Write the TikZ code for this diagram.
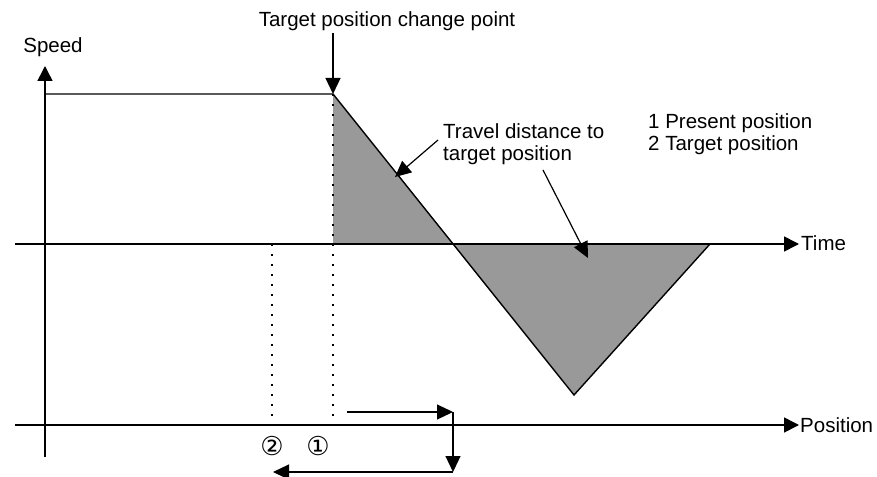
\documentclass[tikz,border=0pt]{standalone}
\usepackage{fontspec}
\setmainfont{Liberation Sans}
\newfontfamily\circfont{DejaVu Sans}
\usetikzlibrary{arrows.meta, positioning}

\definecolor{areagray}{RGB}{153,153,153}

\begin{document}
\begin{tikzpicture}[
    x=1pt, y=-1pt,
    label/.style={
        font=\fontsize{20.5}{21.5}\selectfont,
        inner sep=0pt,
        align=left
    },
    axis/.style={
        line width=1.6pt,
        -{Triangle[length=15pt,width=15pt]}
    },
    curve/.style={
        line width=1.4pt
    },
    arrow/.style={
        line width=1.2pt,
        -{Triangle[length=16pt,width=15pt]}
    },
    guide/.style={
        line width=1.8pt,
        dash pattern=on 2pt off 8pt
    },
    area/.style={
        fill=areagray
    }
]
\useasboundingbox (0,0) rectangle (877,476);

% Key points
\coordinate (vbot) at (45,457);
\coordinate (vtop) at (45,66);
\coordinate (tstart) at (15,244);
\coordinate (tend) at (799,244);
\coordinate (pstart) at (15,425);
\coordinate (pend) at (799,425);
\coordinate (plateau) at (45,94);
\coordinate (change) at (333,94);
\coordinate (foot) at (333,244);
\coordinate (cross) at (453,244);
\coordinate (low) at (574,395);
\coordinate (back) at (710,244);
\coordinate (present) at (333,418);
\coordinate (target) at (272,418);
\coordinate (target0) at (272,244);

% Travel distance areas
\fill[area] (change) -- (foot) -- (cross) -- cycle;
\fill[area] (cross) -- (back) -- (low) -- cycle;

% Axes
\draw[axis] (vbot) -- (vtop);
\draw[axis] (tstart) -- (tend);
\draw[axis] (pstart) -- (pend);

% Speed profile
\draw[curve] (plateau) -- (change) -- (low) -- (back);

% Position guides
\draw[guide] (change) -- (present);
\draw[guide] (target0) -- (target);

% Labels
\node[label, anchor=base] (speed) at (53,53) {Speed};
\node[label, anchor=base west] (timelbl) at (801,250) {Time};
\node[label, anchor=base west] (poslbl) at (800,432) {Position};
\node[label, anchor=base] (changelbl) at (387,27) {Target position change point};
\node[label, anchor=base west] (travel) at (443,160) {Travel distance to\\target position};
\node[label, anchor=base west] (legend) at (648,150) {1 Present position\\2 Target position};
\node[label, font=\circfont\fontsize{26}{28}\selectfont] (two) at (272,446) {②};
\node[label, font=\circfont\fontsize{26}{28}\selectfont] (one) at (318,446) {①};

% Pointers
\coordinate (from1) at (438,140);
\coordinate (tip1) at (395,177);
\coordinate (from2) at (543,170);
\coordinate (tip2) at (588,258);
\draw[arrow] (change |- changelbl.south) ++(0,2) -- (change);
\draw[arrow] (from1) -- (tip1);
\draw[arrow] (from2) -- (tip2);

% Movement
\coordinate (mv1) at (347,412);
\coordinate (mv2) at (453,412);
\coordinate (mv3) at (453,472);
\coordinate (mv4) at (273,472);
\draw[arrow] (mv1) -- (mv2);
\draw[arrow] (mv2) -- (mv3);
\draw[arrow] (mv3) -- (mv4);

\end{tikzpicture}
\end{document}
